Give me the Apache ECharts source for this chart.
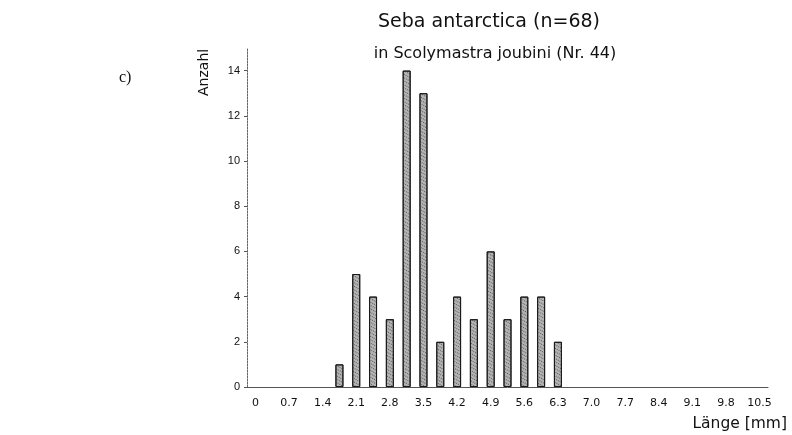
<!DOCTYPE html>
<html>
<head>
    <meta charset="utf-8">
    <script type="text/javascript" src="https://cdn.jsdelivr.net/npm/echarts@6/dist/echarts.min.js"></script>
    <style>
        body { margin: 0; background: #fff; }
    </style>
</head>
<body>
    <div id="main" style="width: 792px;height:435px;"></div>
    <script type="text/javascript">
    // bins of 0.35 mm, from 0 to 10.5
    let bins = ['0','0.35','0.7','1.05','1.4','1.75','2.1','2.45','2.8','3.15','3.5','3.85',
                '4.2','4.55','4.9','5.25','5.6','5.95','6.3','6.65','7.0','7.35','7.7','8.05',
                '8.4','8.75','9.1','9.45','9.8','10.15','10.5']
    let counts = [0,0,0,0,0,1,5,4,3,14,13,2,4,3,6,3,4,4,2,0,0,0,0,0,0,0,0,0,0,0,0]
    let tickLabels = ['0','0.7','1.4','2.1','2.8','3.5','4.2','4.9','5.6','6.3','7.0','7.7','8.4','9.1','9.8','10.5']
    let yTicks = [0, 2, 4, 6, 8, 10, 12, 14]

    var myChart = echarts.init(document.getElementById('main'));
    let font = '"DejaVu Sans", Arial, sans-serif'
    let arial = 'Arial, "Liberation Sans", sans-serif'

    let option = {
        animation: false,
        backgroundColor: '#fff',
        aria: { enabled: true, decal: { show: true } },
        title: [{
            text: 'Seba antarctica (n=68)',
            left: 484, top: 8, textAlign: 'center',
            textStyle: { fontFamily: font, fontSize: 19, fontWeight: 'normal', color: '#111' }
        }, {
            text: 'in Scolymastra joubini (Nr. 44)',
            left: 490, top: 41, textAlign: 'center',
            textStyle: { fontFamily: font, fontSize: 16, fontWeight: 'normal', color: '#111' }
        }],
        graphic: [{
            type: 'text', left: 119, top: 70,
            style: { text: 'c)', font: '16px "Liberation Serif", "DejaVu Serif", serif', fill: '#111' }
        }, {
            type: 'text', x: 211, y: 96, rotation: Math.PI / 2,
            style: { text: 'Anzahl', font: '14px ' + font, fill: '#111', align: 'left', verticalAlign: 'bottom' }
        }, {
            type: 'text', right: 5, top: 416,
            style: { text: 'Länge [mm]', font: '15.5px ' + font, fill: '#111' }
        }],
        grid: { left: 247, right: 24, top: 48, bottom: 48 },
        xAxis: {
            type: 'category',
            data: bins,
            boundaryGap: true,
            axisLine: { lineStyle: { color: '#555', width: 1 } },
            axisTick: { alignWithLabel: true, interval: 0, length: 3, lineStyle: { color: '#555' } },
            axisLabel: {
                interval: 1,
                margin: 11,
                fontFamily: font, fontSize: 11, color: '#111',
                formatter: (v, i) => tickLabels[i / 2]
            }
        },
        yAxis: {
            type: 'value',
            min: 0, max: 15, interval: 2,
            splitLine: { show: false },
            axisLine: { show: true, lineStyle: { color: '#666', width: 1, type: [2, 1] } },
            axisTick: { show: true, length: 3, lineStyle: { color: '#555' } },
            axisLabel: {
                showMaxLabel: false,
                margin: 7,
                fontFamily: arial, fontSize: 11, color: '#111',
                formatter: v => yTicks.indexOf(v) >= 0 ? v : ''
            }
        },
        series: [{
            type: 'bar',
            data: counts.map(v => v === 0 ? '-' : v),
            barWidth: 8,
            itemStyle: {
                color: '#b4b4b4',
                borderColor: '#1a1a1a',
                borderWidth: 1,
                decal: {
                    symbol: 'rect', symbolSize: 1, color: 'rgba(30,30,30,0.6)',
                    dashArrayX: [1, 1], dashArrayY: [1, 2], rotation: 0.5
                }
            }
        }]
    };
    myChart.setOption(option);
    </script>
</body>
</html>
